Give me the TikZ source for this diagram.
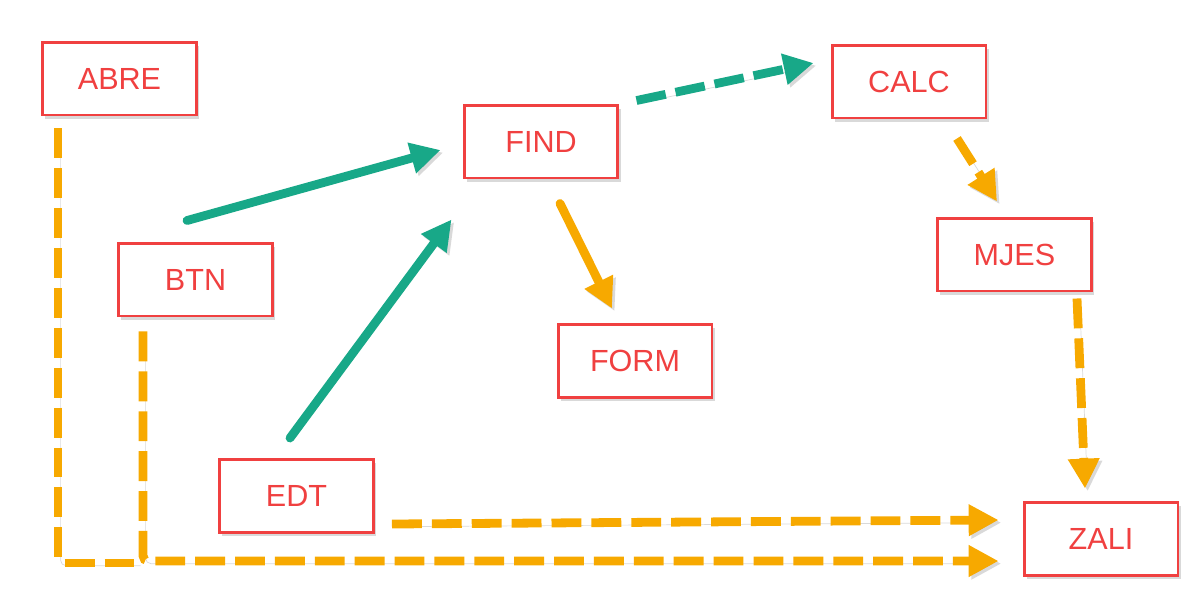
\documentclass[tikz,border=0pt]{standalone}
\usepackage{fontspec}
\setmainfont{Liberation Sans}
\usetikzlibrary{arrows.meta,shadows}
\definecolor{boxred}{RGB}{240,64,64}
\definecolor{flowgreen}{RGB}{24,168,136}
\definecolor{floworange}{RGB}{247,169,0}

\begin{document}
\begin{tikzpicture}
  [x=0.02cm,y=-0.02cm,
   every node/.style={draw=boxred,line width=1.7pt,fill=white,text=boxred,
     minimum width=3.08cm,minimum height=1.46cm,font=\fontsize{17.4}{20}\selectfont,
     drop shadow={shadow xshift=1.5pt,shadow yshift=-2pt,opacity=0.3}},
   flow/.style={line width=5pt,-{Triangle[length=17pt,width=17pt]},
     preaction={draw=black,opacity=0.15,transform canvas={shift={(1.5pt,-1.5pt)}}}},
   grn/.style={flow,draw=flowgreen,line cap=round},
   org/.style={flow,draw=floworange,line cap=round},
   dash line/.style={dash pattern=on 17pt off 5.7pt,line cap=butt}]
  \useasboundingbox (0,0) rectangle (1200,600);
  \node (ABRE) at (119.5,78.5)  {ABRE};
  \node (FIND) at (541,141.5)   {FIND};
  \node (CALC) at (909,81.5)    {CALC};
  \node (BTN)  at (195.5,279.5) {BTN};
  \node (MJES) at (1014.5,254.5) {MJES};
  \node (FORM) at (635,360.5)   {FORM};
  \node (EDT)  at (296.5,496)   {EDT};
  \node (ZALI) at (1101,538.5)  {ZALI};
  \coordinate (meet) at (138,563);
  % green links
  \draw[grn] ([shift={(-8.5,-21)}]BTN.north) -- ([shift={(-22,8.5)}]FIND.west);
  \draw[grn] ([shift={(-6.5,-20)}]EDT.north) -- ([shift={(-11,40)}]FIND.south west);
  \draw[grn,dash line] ([shift={(17,-3)}]FIND.north east) -- ([shift={(-17,-18.5)}]CALC.west);
  % orange links
  \draw[org] ([shift={(19,24)}]FIND.south) -- ([shift={(-23,-14)}]FORM.north);
  \draw[org,dash line] ([shift={(48,19)}]CALC.south) -- ([shift={(-17.5,-15)}]MJES.north);
  \draw[org,dash line] ([shift={(62.5,6)}]MJES.south) -- ([shift={(-16,-12)}]ZALI.north);
  \draw[org,dash line] ([shift={(17,-10)}]EDT.south east) -- ([shift={(-24,-18.5)}]ZALI.west);
  \draw[org,dash line,rounded corners=3pt] ([shift={(-52.5,14)}]BTN.south) |- ([shift={(-24,22.5)}]ZALI.west);
  \draw[org,dash line,rounded corners=3pt,-] ([shift={(-61.5,12)}]ABRE.south) |- (meet);
\end{tikzpicture}
\end{document}
